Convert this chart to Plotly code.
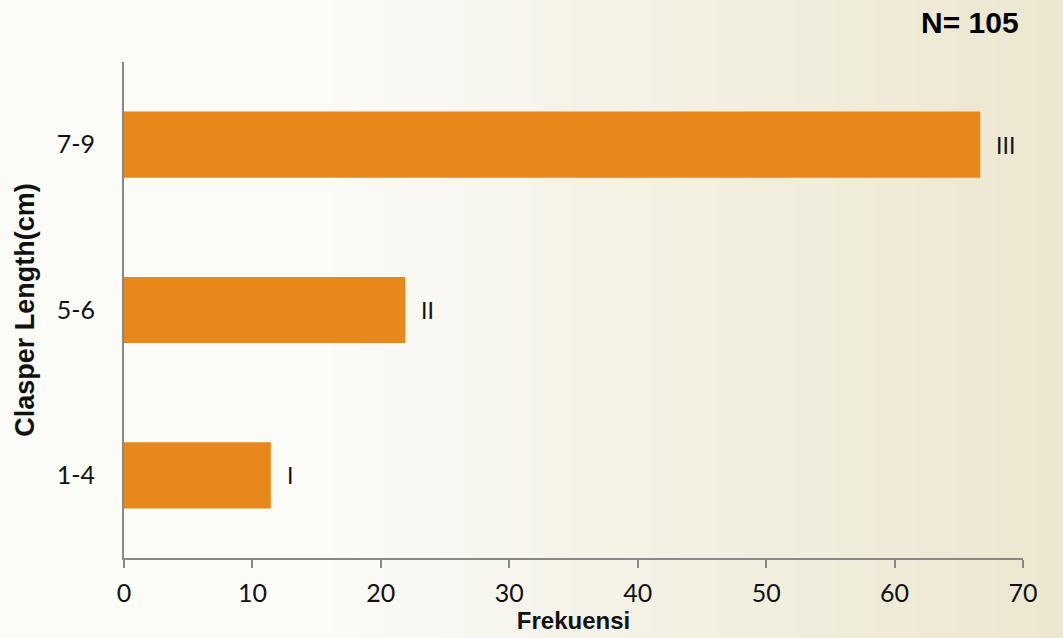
import plotly.graph_objects as go

# Clasper length classes and their frequencies (percent of N = 105)
categories = ["1-4", "5-6", "7-9"]
frequencies = [11.43, 21.90, 66.67]
class_labels = ["I", "II", "III"]
sample_size = 105

bar_color = "#E8871A"
axis_color = "#888888"
font_main = "Lato, 'Open Sans', sans-serif"
font_bold = "'Liberation Sans', Arial, sans-serif"

W, H = 1063, 638
ml, mr, mt, mb = 124, 40, 62, 80
plot_w = W - ml - mr
plot_h = H - mt - mb

fig = go.Figure()
fig.add_trace(go.Bar(
    x=frequencies,
    y=categories,
    orientation="h",
    width=0.4,
    marker=dict(color=bar_color, line=dict(width=0)),
    hoverinfo="x+y",
))

# class labels beside each bar
for cat, val, lab in zip(categories, frequencies, class_labels):
    fig.add_annotation(
        x=val, y=cat, xref="x", yref="y", text=lab, showarrow=False,
        xanchor="left", xshift=14,
        font=dict(family=font_main, size=23, color="#111111"),
    )

# sample size note, top right
fig.add_annotation(
    x=(1021 - ml) / plot_w, y=1 + (mt - 22) / plot_h,
    xref="paper", yref="paper", text=f"<b>N= {sample_size}</b>",
    showarrow=False, font=dict(family=font_bold, size=30, color="#000000"),
    xanchor="right", yanchor="middle",
)

# soft beige gradient background built from thin strips
left_rgb = (251, 251, 248)
mid_rgb = (243, 240, 226)
right_rgb = (236, 231, 208)
n_strips = 80
shapes = []
for i in range(n_strips):
    t = i / (n_strips - 1)
    if t < 0.3:
        a, b, u = left_rgb, left_rgb, 0
    elif t < 0.65:
        a, b, u = left_rgb, mid_rgb, (t - 0.3) / 0.35
    else:
        a, b, u = mid_rgb, right_rgb, (t - 0.65) / 0.35
    c = tuple(round(a[k] + (b[k] - a[k]) * u) for k in range(3))
    x0 = i / n_strips * W
    x1 = ((i + 1) / n_strips + 0.002) * W
    shapes.append(dict(
        type="rect", xref="paper", yref="paper",
        x0=(x0 - ml) / plot_w, x1=(x1 - ml) / plot_w,
        y0=-mb / plot_h - 0.05, y1=1 + mt / plot_h + 0.05,
        fillcolor=f"rgb{c}", line=dict(width=0), layer="below",
    ))

fig.update_layout(
    width=W, height=H,
    margin=dict(l=ml, r=mr, t=mt, b=mb),
    paper_bgcolor="#fbfbf8",
    plot_bgcolor="rgba(0,0,0,0)",
    shapes=shapes,
    showlegend=False,
    font=dict(family=font_main, color="#111111"),
    xaxis=dict(
        range=[0, 70], dtick=10, showgrid=False, zeroline=False,
        showline=True, linecolor=axis_color, linewidth=2,
        ticks="outside", ticklen=8, tickwidth=2, tickcolor=axis_color,
        ticklabelstandoff=4, automargin=False,
        tickfont=dict(family=font_main, size=25, color="#111111"),
        title=dict(text="<b>Frekuensi</b>", standoff=6,
                   font=dict(family=font_bold, size=24, color="#111111")),
    ),
    yaxis=dict(
        range=[-0.5, 2.5], showgrid=False, zeroline=False,
        showline=True, linecolor=axis_color, linewidth=2,
        ticks="", ticklabelstandoff=22, automargin=False,
        tickfont=dict(family=font_main, size=25, color="#111111"),
        title=dict(text="<b>Clasper Length(cm)</b>", standoff=14,
                   font=dict(family=font_bold, size=27, color="#111111")),
    ),
)

fig.write_html("out.html")
